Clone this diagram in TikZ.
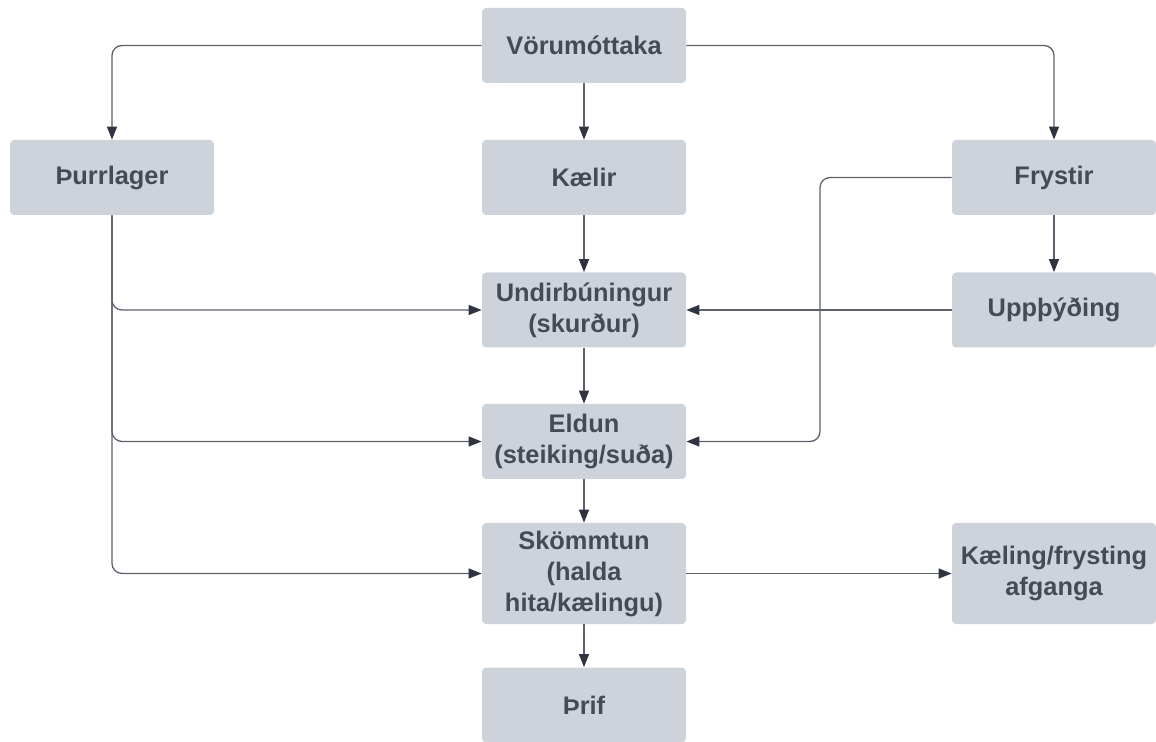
\documentclass[tikz,border=0pt]{standalone}
\usepackage{fontspec}
\setmainfont{Liberation Sans}
\usetikzlibrary{arrows.meta}
\definecolor{boxfill}{HTML}{CED3DB}
\definecolor{boxtext}{HTML}{454B56}
\definecolor{linegray}{HTML}{5C616B}
\definecolor{tipgray}{HTML}{2F3440}
\tikzset{
  stepbox/.style={draw=none, fill=boxfill, rounded corners=2pt, minimum width=102pt,
    minimum height=37.5pt, align=center, text=boxtext, inner sep=2pt,
    font=\fontsize{12.7}{15.5}\selectfont\bfseries},
  tallbox/.style={stepbox, minimum height=50.5pt},
  flow/.style={draw=linegray, line width=0.65pt, rounded corners=5pt,
    -{Triangle[length=6.5pt,width=5pt,color=tipgray]}}
}
\begin{document}
\begin{tikzpicture}
  \useasboundingbox (0,0) rectangle (578pt,-371pt);
  % boxes
  \node[stepbox] (vor) at (292pt,-22.75pt) {Vörumóttaka};
  \node[stepbox] (thur) at (56pt,-88.75pt) {Þurrlager};
  \node[stepbox] (kaelir) at (292pt,-88.75pt) {Kælir};
  \node[stepbox] (fryst) at (527pt,-88.75pt) {Frystir};
  \node[stepbox] (undir) at (292pt,-155pt) {Undirbúningur\\(skurður)};
  \node[stepbox] (upp) at (527pt,-155pt) {Uppþýðing};
  \node[stepbox] (eldun) at (292pt,-220.75pt) {Eldun\\(steiking/suða)};
  \node[tallbox] (skom) at (292pt,-286.75pt) {Skömmtun\\(halda\\hita/kælingu)};
  \node[tallbox] (kaeling) at (527pt,-286.75pt) {Kæling/frysting\\afganga};
  \node[stepbox] (thrif) at (292pt,-352.5pt) {Þrif};
  \coordinate (fbend) at (410pt,-220.75pt);

  % connectors
  \draw[flow] (vor.west) -| (thur.north);
  \draw[flow] (vor.east) -| (fryst.north);
  \draw[flow] (vor) -- (kaelir);
  \draw[flow] (kaelir) -- (undir);
  \foreach \t in {undir,eldun,skom}
    \draw[flow] (thur.south) |- (\t.west);
  \draw[flow] (fryst.west) -| (fbend) -- (eldun.east);
  \draw[flow] (fryst) -- (upp);
  \draw[flow] (upp) -- (undir);
  \draw[flow] (undir) -- (eldun);
  \draw[flow] (eldun) -- (skom);
  \draw[flow] (skom) -- (thrif);
  \draw[flow] (skom) -- (kaeling);
\end{tikzpicture}
\end{document}
